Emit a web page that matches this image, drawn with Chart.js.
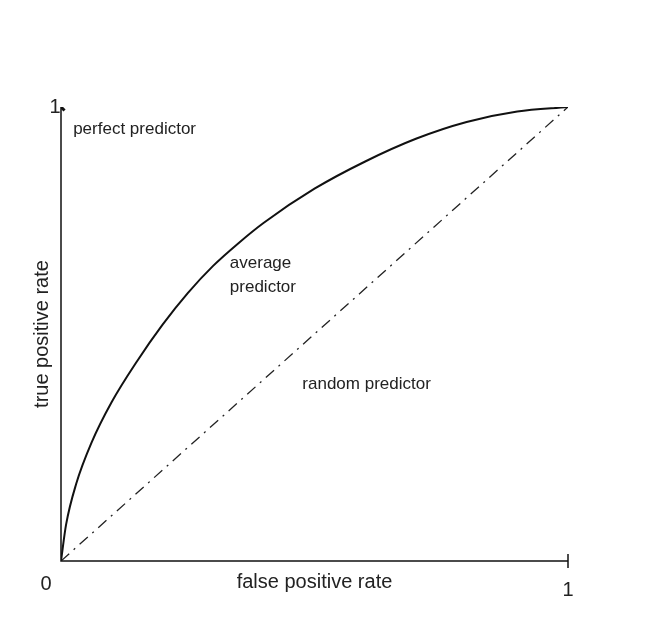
<!DOCTYPE html>
<html><head><meta charset="utf-8">
<script src="https://cdn.jsdelivr.net/npm/chart.js@4"></script>
<style>html,body{margin:0;padding:0;background:#fff}#wrap{width:670px;height:624px}</style>
</head><body><div id="wrap"><canvas id="c"></canvas></div>
<script>
const curveFpr = [0,0.01,0.03,0.06,0.1,0.15,0.2,0.25,0.3,0.35,0.4,0.5,0.6,0.7,0.8,0.9,1];
const curveTpr = [0,0.08,0.17,0.26,0.35,0.44,0.52,0.59,0.65,0.70,0.745,0.82,0.88,0.93,0.967,0.99,1];
const randomFpr = [0,1];
const randomTpr = [0,1];
const perfect = [{x:0,y:1}];
const xTitle = "false positive rate";
const yTitle = "true positive rate";
const notes = [
  {text:"perfect predictor", x:0.024, y:0.95},
  {text:"average predictor", x:0.333, y:0.655},
  {text:"random predictor", x:0.476, y:0.39}
];
const F = '17px "Liberation Sans", Arial, sans-serif';
const FT = '20px "Liberation Sans", Arial, sans-serif';
const deco = {
  id:'deco',
  afterDraw(ch){
    const c=ch.ctx, xs=ch.scales.x, ys=ch.scales.y;
    const x0=xs.getPixelForValue(0), x1=xs.getPixelForValue(1), y0=ys.getPixelForValue(0), y1=ys.getPixelForValue(1);
    c.save();
    c.strokeStyle='#111'; c.lineWidth=1.5;
    c.beginPath(); c.moveTo(x0,y1); c.lineTo(x0,y0); c.lineTo(x1,y0); c.stroke();
    c.beginPath(); c.moveTo(x1,y0-7); c.lineTo(x1,y0+7); c.stroke();
    c.fillStyle='#222'; c.font=FT; c.textBaseline='middle';
    c.textAlign='center';
    c.fillText('0', x0-15, y0+23);
    c.fillText('1', x1, y0+29);
    c.fillText('1', x0-6, y1);
    c.fillText(xTitle, (x0+x1)/2, y0+21);
    c.font=F; c.textAlign='left';
    notes.forEach(n=>{
      const px=xs.getPixelForValue(n.x), py=ys.getPixelForValue(n.y);
      if(n.text==="average predictor"){c.fillText("average",px,py);c.fillText("predictor",px,py+24);}
      else c.fillText(n.text,px,py);
    });
    c.font=FT;
    c.translate(42,(y0+y1)/2); c.rotate(-Math.PI/2); c.textAlign='center';
    c.fillText(yTitle,0,0);
    c.restore();
  }
};
new Chart(document.getElementById('c'),{
  type:'scatter',
  data:{datasets:[
    {data:curveFpr.map((v,i)=>({x:v,y:curveTpr[i]})),showLine:true,borderColor:'#111',borderWidth:2,pointRadius:0,cubicInterpolationMode:'monotone'},
    {data:randomFpr.map((v,i)=>({x:v,y:randomTpr[i]})),showLine:true,borderColor:'#222',borderWidth:1.3,borderDash:[11,6,2,6],pointRadius:0},
    {data:perfect,pointStyle:'crossRot',pointRadius:5,borderWidth:3,borderColor:'#111'}
  ]},
  options:{responsive:true,maintainAspectRatio:false,animation:false,
    layout:{padding:{left:61,right:102,top:107,bottom:63}},
    plugins:{legend:{display:false},tooltip:{enabled:false}},
    scales:{x:{type:'linear',min:0,max:1,display:false},y:{type:'linear',min:0,max:1,display:false}}
  },
  plugins:[deco]
});
</script></body></html>
